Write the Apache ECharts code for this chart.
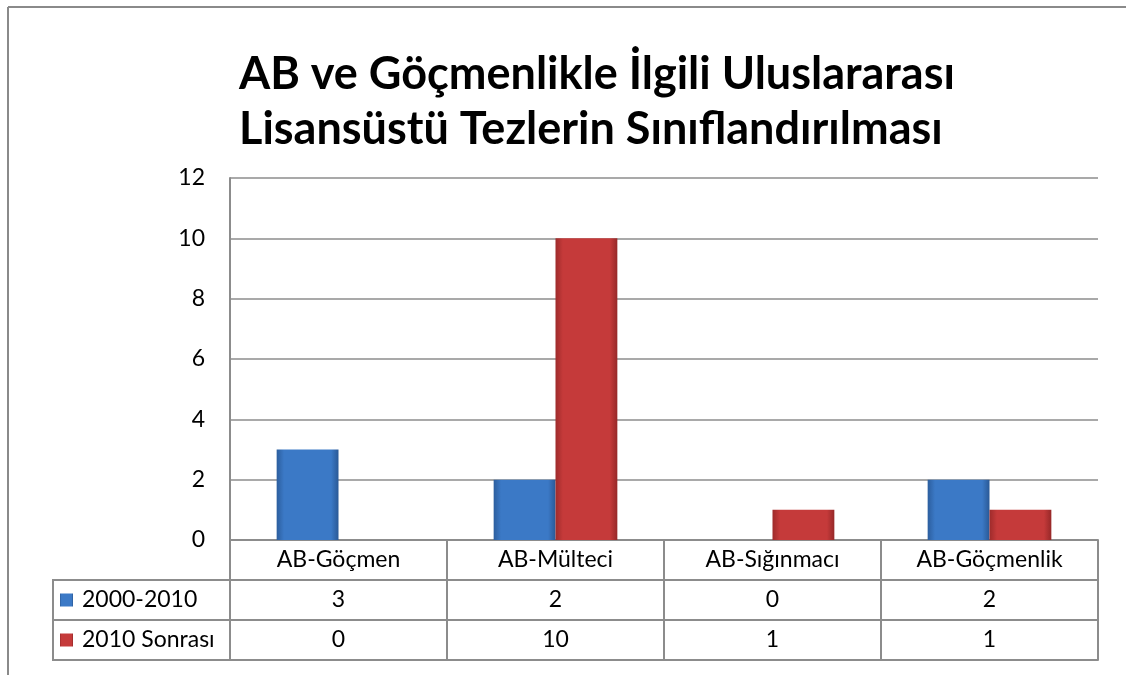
<!DOCTYPE html>
<html>
<head>
<meta charset="utf-8">
<script src="https://cdn.jsdelivr.net/npm/echarts@6/dist/echarts.min.js"></script>
<style>html,body{margin:0;padding:0;background:#fff}#c{width:1126px;height:675px}</style>
</head>
<body>
<div id="c"></div>
<script>
var titleText = 'AB ve Göçmenlikle İlgili Uluslararası\nLisansüstü Tezlerin Sınıflandırılması';
var categories = ['AB-Göçmen', 'AB-Mülteci', 'AB-Sığınmacı', 'AB-Göçmenlik'];
var seriesNames = ['2000-2010', '2010 Sonrası'];
var values2000_2010 = [3, 2, 0, 2];
var valuesAfter2010 = [0, 10, 1, 1];
var yMin = 0, yMax = 12, yInterval = 2;

var FONT = 'Lato, "Open Sans", sans-serif';
var GRID_COLOR = '#8c8c8c';
var FS = 23;

function grad(c0, c1, c2) {
  return new echarts.graphic.LinearGradient(0, 0, 1, 0, [
    {offset: 0, color: c0}, {offset: 0.12, color: c1},
    {offset: 0.88, color: c1}, {offset: 1, color: c2}
  ]);
}
var blue = grad('#2c5e9e', '#3b79c6', '#2a5996');
var red = grad('#9e2b2b', '#c53a3a', '#962828');

function tableAxis(data, offset, showLabels) {
  return {
    type: 'category', position: 'bottom', gridIndex: 0, data: data, offset: offset,
    axisLine: {show: true, lineStyle: {color: GRID_COLOR, width: 2}},
    axisTick: {show: showLabels, alignWithLabel: false, interval: 0, length: 40, inside: false,
               lineStyle: {color: GRID_COLOR, width: 2}},
    axisLabel: {show: showLabels, interval: 0, margin: 20, verticalAlign: 'middle',
                fontSize: FS, color: '#000', fontFamily: FONT},
    splitLine: {show: false}
  };
}

var chart = echarts.init(document.getElementById('c'), null, {renderer: 'canvas'});
chart.setOption({
  backgroundColor: '#fff',
  animation: false,
  title: {
    text: titleText, left: 234, top: 42,
    textStyle: {fontSize: 45, fontWeight: 'bold', color: '#000', fontFamily: FONT, lineHeight: 55}
  },
  legend: {
    orient: 'vertical', left: 60, top: 580, itemGap: 0, itemWidth: 13, itemHeight: 13, padding: 0,
    icon: 'rect', data: seriesNames,
    textStyle: {fontSize: FS, color: '#000', fontFamily: FONT, lineHeight: 40, height: 40, padding: [0, 0, 0, 4]}
  },
  grid: {left: 230, right: 28, top: 178, bottom: 135, containLabel: false},
  xAxis: [
    tableAxis(categories, 0, true),
    tableAxis(values2000_2010.map(String), 40, true),
    tableAxis(valuesAfter2010.map(String), 80, true),
    tableAxis(categories, 120, false)
  ],
  yAxis: {
    type: 'value', min: yMin, max: yMax, interval: yInterval,
    axisLine: {show: true, lineStyle: {color: GRID_COLOR, width: 2}},
    axisTick: {show: false},
    axisLabel: {fontSize: FS, color: '#000', margin: 25, fontFamily: FONT},
    splitLine: {show: true, lineStyle: {color: GRID_COLOR, width: 1.5}}
  },
  series: [
    {name: seriesNames[0], type: 'bar', data: values2000_2010, barGap: '0%', barCategoryGap: '43%',
     itemStyle: {color: blue}},
    {name: seriesNames[1], type: 'bar', data: valuesAfter2010, barGap: '0%', barCategoryGap: '43%',
     itemStyle: {color: red}}
  ],
  graphic: [
    {type: 'line', shape: {x1: 8, y1: 7, x2: 8, y2: 675}, style: {stroke: '#8a8a8a', lineWidth: 2}},
    {type: 'line', shape: {x1: 8, y1: 7, x2: 1126, y2: 7}, style: {stroke: '#8a8a8a', lineWidth: 2}},
    {type: 'rect', shape: {x: 53, y: 580, width: 177, height: 80}, style: {fill: 'none', stroke: GRID_COLOR, lineWidth: 2}},
    {type: 'line', shape: {x1: 53, y1: 620, x2: 230, y2: 620}, style: {stroke: GRID_COLOR, lineWidth: 2}}
  ]
});
</script>
</body>
</html>
